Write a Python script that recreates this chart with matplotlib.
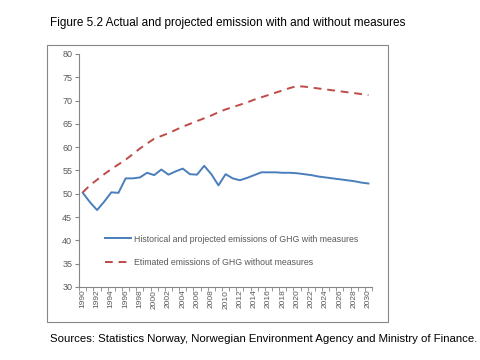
import matplotlib.pyplot as plt
from matplotlib.patches import Rectangle

years = list(range(1990, 2031))
with_measures = [50.2, 48.2, 46.5, 48.3, 50.3, 50.2, 53.3, 53.3, 53.5, 54.5,
                 54.0, 55.2, 54.1, 54.8, 55.4, 54.2, 54.1, 56.0, 54.2, 51.8,
                 54.2, 53.3, 52.9, 53.4, 54.0, 54.6, 54.6, 54.6, 54.5, 54.5,
                 54.4, 54.2, 54.0, 53.7, 53.5, 53.3, 53.1, 52.9, 52.7, 52.4,
                 52.2]
without_measures = [50.3, 51.8, 53.0, 54.2, 55.3, 56.3, 57.3, 58.5, 59.7, 60.8,
                    61.8, 62.4, 63.0, 63.7, 64.4, 65.0, 65.6, 66.2, 66.8, 67.5,
                    68.1, 68.6, 69.1, 69.6, 70.2, 70.7, 71.2, 71.7, 72.2, 72.7,
                    73.1, 73.0, 72.8, 72.6, 72.4, 72.2, 72.0, 71.8, 71.6, 71.4,
                    71.2]
label_with = 'Historical and projected emissions of GHG with measures'
label_without = 'Etimated emissions of GHG without measures'

plt.rcParams['font.family'] = ['Liberation Sans', 'DejaVu Sans']
grey = '#595959'

fig = plt.figure(figsize=(4.8, 3.6), dpi=100)
fig.patches.append(Rectangle((0.098, 0.106), 0.71, 0.769, transform=fig.transFigure,
                             fill=False, edgecolor='#868686', linewidth=0.8))

ax = fig.add_axes([0.165, 0.203, 0.61, 0.647])
x = list(range(len(years)))
ax.plot(x, with_measures, color='#4a7ebb', linewidth=1.4, label=label_with)
ax.plot(x, without_measures, color='#be4b48', linewidth=1.4, linestyle=(0, (4, 3)),
        label=label_without)

ax.set_xlim(-0.5, len(years) - 0.5)
ax.set_ylim(30, 80)
ax.set_yticks(range(30, 81, 5))
ax.set_xticks(x[::2])
ax.set_xticklabels([str(y) for y in years[::2]], rotation=90)
ax.set_xticks([i - 0.5 for i in range(len(years) + 1)], minor=True)
ax.tick_params(axis='x', which='major', length=0, labelsize=6, colors=grey, pad=2)
ax.tick_params(axis='x', which='minor', length=3, color='#868686')
ax.tick_params(axis='y', labelsize=6.5, colors=grey, length=3, color='#868686', pad=2)
for s in ['top', 'right']:
    ax.spines[s].set_visible(False)
for s in ['left', 'bottom']:
    ax.spines[s].set_color('#868686')
    ax.spines[s].set_linewidth(0.8)

leg = ax.legend(loc='lower left', bbox_to_anchor=(0.06, 0.05), frameon=False,
                fontsize=6.3, handlelength=3.0, labelspacing=1.7, handletextpad=0.3)
for t in leg.get_texts():
    t.set_color(grey)

fig.text(0.104, 0.937, 'Figure 5.2 Actual and projected emission with and without measures',
         fontsize=8.5, va='center')
fig.text(0.104, 0.058, 'Sources: Statistics Norway, Norwegian Environment Agency and Ministry of Finance.',
         fontsize=8.2, va='center')

fig.savefig('out.png', dpi=100)
